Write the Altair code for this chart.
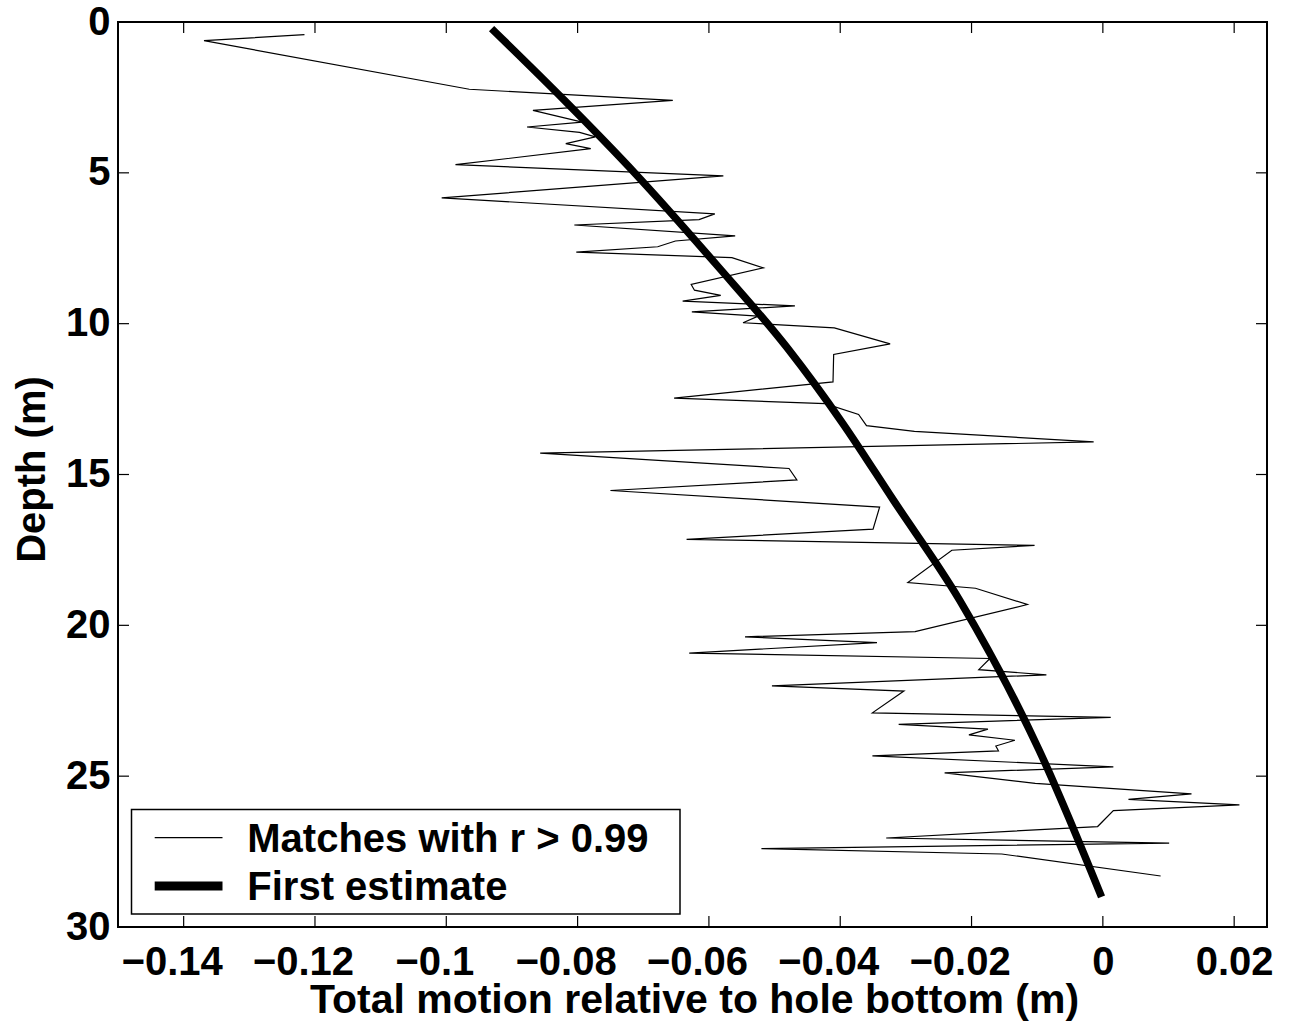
import altair as alt
import pandas as pd

# ---- data ----
thin_x = [-0.1216, -0.1369, -0.0965, -0.0655, -0.0868, -0.0793, -0.0877, -0.0797, -0.0773, -0.0818,
          -0.0780, -0.0986, -0.0578, -0.1007, -0.0591, -0.0615, -0.0805, -0.0560, -0.0651, -0.0678,
          -0.0802, -0.0565, -0.0517, -0.0627, -0.0622, -0.0582, -0.0640, -0.0469, -0.0626, -0.0525,
          -0.0548, -0.0409, -0.0324, -0.0410, -0.0411, -0.0653, -0.0423, -0.0372, -0.0360, -0.0287,
          -0.0014, -0.0857, -0.0478, -0.0466, -0.0750, -0.0340, -0.0350, -0.0634, -0.0104, -0.0230,
          -0.0297, -0.0194, -0.0115, -0.0286, -0.0545, -0.0344, -0.0630, -0.0172, -0.0189, -0.0086,
          -0.0504, -0.0303, -0.0351, 0.0012, -0.0311, -0.0175, -0.0204, -0.0134, -0.0163, -0.0159,
          -0.0351, 0.0016, -0.0241, -0.0103, 0.0135, 0.0039, 0.0208, 0.0016, -0.0008, -0.0330,
          0.0101, -0.0520, -0.0154, 0.0088]
thin_depth = [0.42, 0.62, 2.23, 2.60, 2.93, 3.32, 3.48, 3.66, 3.81, 4.03,
              4.20, 4.73, 5.10, 5.83, 6.36, 6.55, 6.73, 7.09, 7.26, 7.45,
              7.63, 7.81, 8.15, 8.70, 8.89, 9.06, 9.25, 9.41, 9.61, 9.75,
              9.97, 10.14, 10.67, 11.02, 11.93, 12.47, 12.65, 13.01, 13.38, 13.57,
              13.92, 14.29, 14.80, 15.18, 15.53, 16.08, 16.81, 17.15, 17.35, 17.51,
              18.58, 18.77, 19.31, 20.21, 20.38, 20.57, 20.92, 21.10, 21.47, 21.64,
              22.01, 22.18, 22.90, 23.05, 23.28, 23.44, 23.63, 23.81, 24.00, 24.16,
              24.33, 24.69, 24.89, 25.24, 25.59, 25.77, 25.95, 26.14, 26.67, 27.05,
              27.22, 27.40, 27.58, 28.31]

est_x = [-0.0931, -0.0820, -0.0712, -0.0588, -0.0480, -0.0396, -0.0319, -0.0218, -0.0097, -0.0002]
est_depth = [0.22, 2.60, 5.03, 8.06, 10.82, 13.31, 15.85, 19.17, 24.14, 29.00]

x_ticks = [-0.14, -0.12, -0.1, -0.08, -0.06, -0.04, -0.02, 0, 0.02]
y_ticks = [0, 5, 10, 15, 20, 25, 30]
legend_labels = ["Matches with r > 0.99", "First estimate"]
x_title = "Total motion relative to hole bottom (m)"
y_title = "Depth (m)"

# ---- layout ----
W, H = 1149, 905
FONT = "Liberation Sans"
TICK = 11

thin_df = pd.DataFrame({"x": thin_x, "d": thin_depth, "i": list(range(len(thin_x)))})
est_df = pd.DataFrame({"x": est_x, "d": est_depth, "i": list(range(len(est_x)))})
xt_df = pd.DataFrame({"t": x_ticks})
yt_df = pd.DataFrame({"t": y_ticks})
one = pd.DataFrame({"k": [0]})

xs = alt.Scale(domain=[-0.15, 0.025], nice=False, zero=False)
ys = alt.Scale(domain=[0, 30], reverse=True, nice=False, zero=False)

x_axis = alt.Axis(values=x_ticks, format="~g", ticks=False, domain=False, grid=False,
                  labelFont=FONT, labelFontSize=40, labelFontWeight="bold", labelColor="black",
                  labelPadding=15, labelFlush=False, labelOverlap=False,
                  labelOffset={"condition": {"test": "datum.value < 0", "value": -12}, "value": 0},
                  title=x_title, titleFont=FONT, titleFontSize=41, titleFontWeight="bold",
                  titleColor="black", titleX=576, titleY=85, titleBaseline="alphabetic",
                  titleAlign="center")
y_axis = alt.Axis(values=y_ticks, format="d", ticks=False, domain=False, grid=False,
                  labelFont=FONT, labelFontSize=40, labelFontWeight="bold", labelColor="black",
                  labelPadding=8, labelFlush=False, labelOverlap=False,
                  title=y_title, titleFont=FONT, titleFontSize=40, titleFontWeight="bold",
                  titleColor="black", titleAngle=270, titleX=-106, titleY=447,
                  titleBaseline="top", titleAlign="center")

thin = alt.Chart(thin_df).mark_line(color="black", strokeWidth=1.2).encode(
    x=alt.X("x:Q", scale=xs, axis=x_axis),
    y=alt.Y("d:Q", scale=ys, axis=y_axis),
    order="i:Q",
)
est = alt.Chart(est_df).mark_line(color="black", strokeWidth=7.5, interpolate="monotone").encode(
    x=alt.X("x:Q", scale=xs),
    y=alt.Y("d:Q", scale=ys),
    order="i:Q",
)

tick_bottom = alt.Chart(xt_df).mark_rule(color="black", strokeWidth=1.2).encode(
    x=alt.X("t:Q", scale=xs), y=alt.value(H), y2=alt.value(H - TICK))
tick_top = alt.Chart(xt_df).mark_rule(color="black", strokeWidth=1.2).encode(
    x=alt.X("t:Q", scale=xs), y=alt.value(0), y2=alt.value(TICK))
tick_left = alt.Chart(yt_df).mark_rule(color="black", strokeWidth=1.2).encode(
    y=alt.Y("t:Q", scale=ys), x=alt.value(0), x2=alt.value(TICK))
tick_right = alt.Chart(yt_df).mark_rule(color="black", strokeWidth=1.2).encode(
    y=alt.Y("t:Q", scale=ys), x=alt.value(W), x2=alt.value(W - TICK))

leg_box = alt.Chart(one).mark_rect(fill="white", stroke="black", strokeWidth=1.5).encode(
    x=alt.value(13.5), x2=alt.value(562), y=alt.value(787.5), y2=alt.value(892))
leg_s1 = alt.Chart(one).mark_rule(color="black", strokeWidth=1.2).encode(
    x=alt.value(36.7), x2=alt.value(104.5), y=alt.value(815.7))
leg_s2 = alt.Chart(one).mark_rule(color="black", strokeWidth=9).encode(
    x=alt.value(36.7), x2=alt.value(104.5), y=alt.value(864))
leg_t1 = alt.Chart(one).mark_text(align="left", baseline="alphabetic", font=FONT, fontSize=40,
                                  fontWeight="bold", color="black").encode(
    x=alt.value(129.3), y=alt.value(829.7), text=alt.value(legend_labels[0]))
leg_t2 = alt.Chart(one).mark_text(align="left", baseline="alphabetic", font=FONT, fontSize=40,
                                  fontWeight="bold", color="black").encode(
    x=alt.value(129.3), y=alt.value(878), text=alt.value(legend_labels[1]))

chart = alt.layer(
    thin, est, tick_bottom, tick_top, tick_left, tick_right,
    leg_box, leg_s1, leg_s2, leg_t1, leg_t2,
).properties(
    width=W, height=H,
    padding={"left": 118, "top": 22, "right": 26, "bottom": 100},
    autosize=alt.AutoSizeParams(type="none"),
    background="white",
).configure_view(
    stroke="black", strokeWidth=2, fill="white"
)

chart.save("out.html", embed_options={"renderer": "svg", "actions": False})
